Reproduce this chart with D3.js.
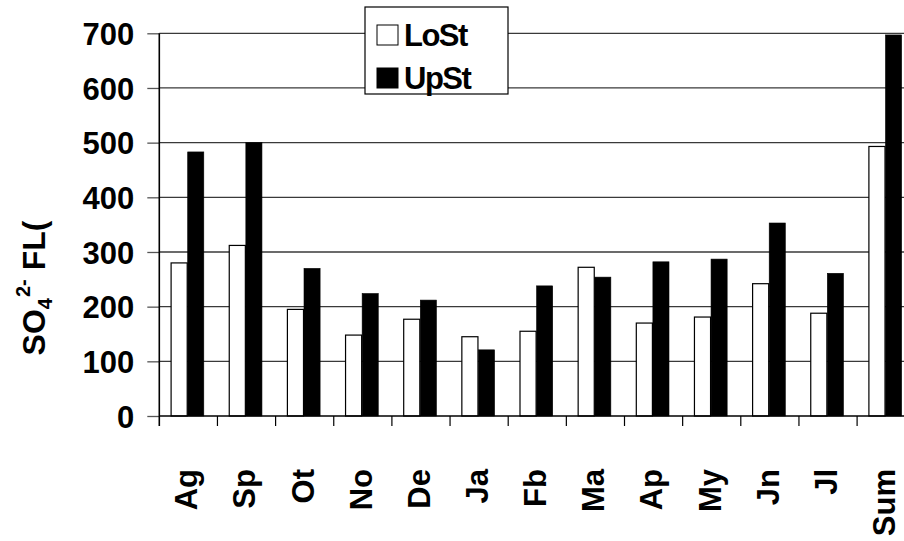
<!DOCTYPE html>
<html>
<head>
<meta charset="utf-8">
<script src="https://cdn.jsdelivr.net/npm/d3@7"></script>
<style>
html,body{margin:0;padding:0;background:#fff;}
svg{display:block;font-family:"Liberation Sans",Arial,sans-serif;font-weight:bold;}
</style>
</head>
<body>
<svg id="chart" width="904" height="541"></svg>
<script>
// ---- data ----
const categories = ["Ag","Sp","Ot","No","De","Ja","Fb","Ma","Ap","My","Jn","Jl","Sum"];
const seriesNames = ["LoSt","UpSt"];
const lowerValues = [280,312,195,148,177,145,155,272,170,181,242,188,493];
const upperValues = [483,500,270,224,212,121,238,254,282,287,353,261,697];
const yTicks = [0,100,200,300,400,500,600,700];

(function(){
// ---- layout ----
const svg = d3.select("#chart");
const W = 904, H = 541;
const mLeft = 159.3, mTop = 33.3, mBottom = 416;
const step = 58.15;
const x0 = d3.scaleBand().domain(categories).range([mLeft, mLeft + step*categories.length]).paddingInner(0).paddingOuter(0);
const x1 = d3.scaleBand().domain(seriesNames).range([11.3, 44.5]).padding(0);
const y = d3.scaleLinear().domain([0,700]).range([mBottom, mTop]);
const fs = 31;

// gridlines
svg.append("g").selectAll("line").data(yTicks.filter(d=>d>0)).join("line")
  .attr("x1", mLeft).attr("x2", W).attr("y1", d=>y(d)).attr("y2", d=>y(d))
  .attr("stroke","#3a3a3a").attr("stroke-width",1.3);

// bars
const rows = categories.map((c,i)=>({cat:c, vals:[lowerValues[i], upperValues[i]]}));
const g = svg.append("g");
rows.forEach(r=>{
  r.vals.forEach((v,j)=>{
    const s = seriesNames[j];
    g.append("rect")
      .attr("x", x0(r.cat) + x1(s) + 0.5)
      .attr("y", y(v))
      .attr("width", x1.bandwidth() - 0.5)
      .attr("height", mBottom - y(v))
      .attr("fill", j===0 ? "#fff" : "#000")
      .attr("stroke", "#000").attr("stroke-width", j===0 ? 1.2 : 0.6);
  });
});

// y axis
const yAxis = d3.axisLeft(y).tickValues(yTicks).tickSize(12).tickPadding(13).tickFormat(d3.format("d"));
const ya = svg.append("g").attr("transform",`translate(${mLeft},0)`).call(yAxis);
ya.select(".domain").remove();
ya.selectAll(".tick line").attr("stroke","#555").attr("stroke-width",1.3);
ya.selectAll(".tick text").attr("font-size",fs).attr("font-weight","bold").attr("fill","#000")
  .attr("font-family","Liberation Sans, Arial, sans-serif").attr("dy","0.36em");
svg.append("line").attr("x1",mLeft).attr("x2",mLeft).attr("y1",mTop).attr("y2",mBottom+10)
  .attr("stroke","#000").attr("stroke-width",1.6);

// x axis line + ticks at band boundaries
svg.append("line").attr("x1",mLeft).attr("x2",W).attr("y1",mBottom).attr("y2",mBottom)
  .attr("stroke","#000").attr("stroke-width",1.6);
svg.append("g").selectAll("line").data(categories.slice(1)).join("line")
  .attr("x1", d=>x0(d)).attr("x2", d=>x0(d)).attr("y1", mBottom).attr("y2", mBottom+10)
  .attr("stroke","#000").attr("stroke-width",1.2);

// x labels (rotated)
svg.append("g").selectAll("text").data(categories).join("text")
  .attr("transform", d=>`translate(${x0(d)+x0.bandwidth()/2 - 2},469) rotate(-90)`)
  .attr("text-anchor","end").attr("dy","0.35em")
  .attr("font-size",fs).attr("fill","#000")
  .text(d=>d);

// y title
const yt = svg.append("text")
  .attr("transform","translate(45,288) rotate(-90)")
  .attr("text-anchor","middle").attr("font-size",32).attr("fill","#000");
yt.append("tspan").text("SO");
yt.append("tspan").attr("font-size",20).attr("dy",7).text("4");
yt.append("tspan").attr("font-size",20).attr("dx",1).attr("dy",-22).text("2-");
yt.append("tspan").attr("dy",15).text(" FL(");

// legend
const lg = svg.append("g");
lg.append("rect").attr("x",365).attr("y",7).attr("width",143).attr("height",87)
  .attr("fill","#fff").attr("stroke","#000").attr("stroke-width",1.2);
seriesNames.forEach((s,i)=>{
  const cy = 35 + i*43;
  lg.append("rect").attr("x",377).attr("y",cy-10).attr("width",21).attr("height",20)
    .attr("fill", i===0 ? "#fff" : "#000").attr("stroke","#000").attr("stroke-width",1);
  lg.append("text").attr("x",404).attr("y",cy).attr("dy","0.36em")
    .attr("font-size",fs).attr("letter-spacing",-1.5).attr("fill","#000").text(s);
});
})();
</script>
</body>
</html>
